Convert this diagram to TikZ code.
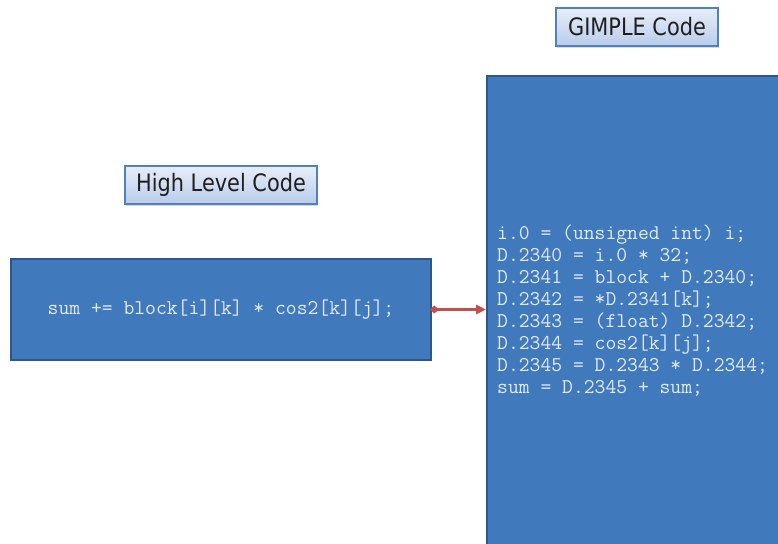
\documentclass[tikz,border=0pt]{standalone}
\usepackage{fontspec}
\newfontfamily\labelfont[FakeStretch=0.87]{DejaVu Sans}
\usetikzlibrary{arrows.meta,shadows}

\definecolor{codeblue}{RGB}{64,122,189}
\definecolor{codeedge}{RGB}{44,86,140}
\definecolor{codetext}{RGB}{226,233,242}
\definecolor{tagedge}{RGB}{79,129,189}
\definecolor{tagtop}{RGB}{232,238,248}
\definecolor{tagbottom}{RGB}{184,204,234}
\definecolor{linkred}{RGB}{192,80,77}

% fixed-pitch code text
\newcommand\codetype{\ttfamily\fontsize{21.03}{22}\selectfont}

\tikzset{
  codebox/.style={draw=codeedge, line width=1.6pt, fill=codeblue,
    text=codetext, font=\codetype, inner sep=0pt},
  codelines/.style={text=codetext, font=\codetype, inner sep=0pt},
  tagbox/.style={draw=tagedge, line width=1.2pt, top color=tagtop,
    bottom color=tagbottom, text=black!88,
    font=\labelfont\fontsize{24}{28}\selectfont,
    drop shadow={opacity=0.3, shadow xshift=1.2pt, shadow yshift=-1.8pt},
    inner sep=0pt},
  link/.style={draw=linkred, line width=2.6pt,
    {Diamond[length=9pt,width=8pt]}-{Triangle[length=10pt,width=9pt]}}
}

\begin{document}
\begin{tikzpicture}[x=1pt,y=-1pt]
  \useasboundingbox (0,0) rectangle (778,543);
  \clip (0,0) rectangle (778,543);

  % headings
  \node[tagbox, minimum width=192pt, minimum height=38pt] (hltag) at (221,185) {High Level Code};
  \node[tagbox, minimum width=162pt, minimum height=38pt] (gtag) at (637,27) {GIMPLE Code};

  % source statement
  \node[codebox, minimum width=420pt, minimum height=101pt] (hl) at (221,309.5)
    {\raisebox{-2pt}{sum += block[i][k] * cos2[k][j];}};

  % lowered GIMPLE statements
  \node[codebox, anchor=north west, minimum width=305pt, minimum height=470pt] (gimple) at (486,75) {};
  \node[codelines, anchor=west] (gimplecode) at (497,312.5)
    {\begin{tabular}{@{}l@{}}
     i.0 = (unsigned int) i;\\
     D.2340 = i.0 * 32;\\
     D.2341 = block + D.2340;\\
     D.2342 = *D.2341[k];\\
     D.2343 = (float) D.2342;\\
     D.2344 = cos2[k][j];\\
     D.2345 = D.2343 * D.2344;\\
     sum = D.2345 + sum;
     \end{tabular}};

  \draw[link] ([xshift=-2pt]hl.east) -- (hl.east -| gimple.west);
\end{tikzpicture}
\end{document}
